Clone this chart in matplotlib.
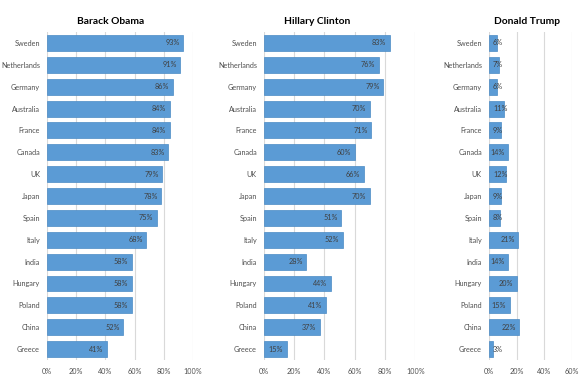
import matplotlib.pyplot as plt
from matplotlib.ticker import PercentFormatter

# Data (share with confidence in each candidate, %)
countries = ['Sweden', 'Netherlands', 'Germany', 'Australia', 'France', 'Canada', 'UK',
             'Japan', 'Spain', 'Italy', 'India', 'Hungary', 'Poland', 'China', 'Greece']
obama = [93, 91, 86, 84, 84, 83, 79, 78, 75, 68, 58, 58, 58, 52, 41]
clinton = [83, 76, 79, 70, 71, 60, 66, 70, 51, 52, 28, 44, 41, 37, 15]
trump = [6, 7, 6, 11, 9, 14, 12, 9, 8, 21, 14, 20, 15, 22, 3]

panels = [
    ('Barack Obama', obama, 100, [0.081, 0.252], 0.19),
    ('Hillary Clinton', clinton, 100, [0.455, 0.261], 0.547),
    ('Donald Trump', trump, 60, [0.843, 0.143], 0.908),
]

bar_color = '#5B9BD5'
text_color = '#404040'
grid_color = '#D9D9D9'

plt.rcParams['font.family'] = ['Lato', 'DejaVu Sans']

fig = plt.figure(figsize=(5.8, 3.84), dpi=100)

for title, values, xmax, (left, width), title_x in panels:
    ax = fig.add_axes([left, 0.0625, width, 0.854])
    y = list(range(len(countries)))
    ax.barh(y, values, height=0.73, color=bar_color, edgecolor='#4A8AC4', linewidth=0.5, zorder=2)
    ax.set_ylim(len(countries) - 0.5, -0.5)
    ax.set_xlim(0, xmax)
    ax.set_yticks(y)
    ax.set_yticklabels(countries, fontsize=5.2, color='#505050')
    ax.set_xticks(range(0, xmax + 1, 20))
    ax.xaxis.set_major_formatter(PercentFormatter(decimals=0))
    ax.tick_params(axis='x', labelsize=5.2, labelcolor='#505050', length=0, pad=6)
    ax.tick_params(axis='y', length=0, pad=5)
    ax.grid(axis='x', color=grid_color, linewidth=0.8, zorder=0)
    for s in ax.spines.values():
        s.set_visible(False)

    # value labels: inside end, or from the bar start when the bar is too short
    px_per_unit = ax.transData.transform((1, 0))[0] - ax.transData.transform((0, 0))[0]
    for yi, v in zip(y, values):
        if v * px_per_unit > 18:
            ax.annotate(f'{v}%', xy=(v, yi), xytext=(-2.5, 0), textcoords='offset points',
                        ha='right', va='center', fontsize=5.2, color=text_color, zorder=3)
        else:
            ax.annotate(f'{v}%', xy=(0, yi), xytext=(3, 0), textcoords='offset points',
                        ha='left', va='center', fontsize=5.2, color=text_color, zorder=3)

    fig.text(title_x, 1 - 21 / 384, title, ha='center', va='center',
             fontsize=7.4, fontweight='bold', color='black')

fig.savefig('out.png', dpi=100)
